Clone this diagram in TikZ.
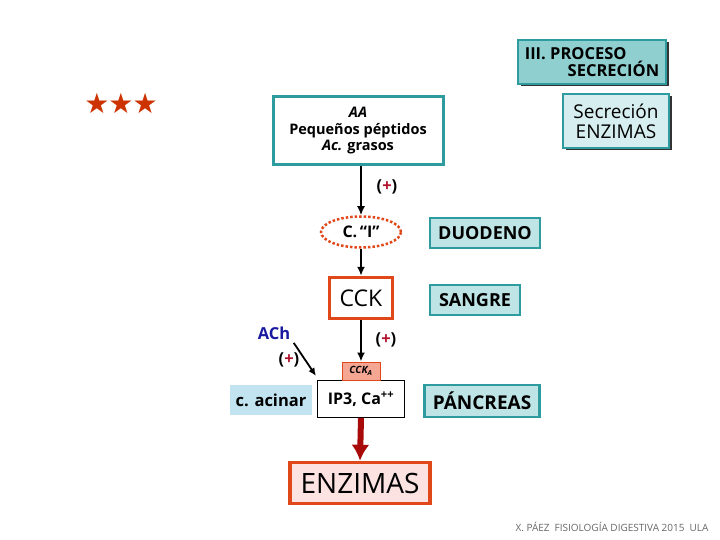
\documentclass[tikz,border=0pt]{standalone}
\usepackage{fontspec}
\setmainfont{Open Sans}
\newfontfamily\djv{DejaVu Sans}
\usetikzlibrary{arrows.meta,shapes.geometric,shadows}
\definecolor{teal1}{HTML}{2E9C9E}
\definecolor{tealfill}{HTML}{8FCFD0}
\definecolor{cyanfill}{HTML}{D6EEF0}
\definecolor{boxfill}{HTML}{BFE4E6}
\definecolor{redor}{HTML}{E0481A}
\definecolor{starred}{HTML}{CC3300}
\definecolor{achblue}{HTML}{1A1AA0}
\definecolor{plusred}{HTML}{B0102A}
\definecolor{salmon}{HTML}{F5A793}
\definecolor{pinkfill}{HTML}{FDE2E2}
\definecolor{acinar}{HTML}{C2E4F0}
\definecolor{darkred}{HTML}{A80A0A}
\newcommand{\fs}[1]{\fontsize{#1}{#1}\selectfont}
\newcommand{\pl}{(\textcolor{plusred}{+})}
\tikzset{
  tealbox/.style={draw=teal1, line width=2.5pt, fill=boxfill, inner sep=2pt, font=\fs{18}\bfseries},
  shadowbox/.style={drop shadow={shadow xshift=2.5pt, shadow yshift=-2.5pt, fill=black!80, opacity=1}},
  flow/.style={line width=2.5pt, -{Latex[length=9pt,width=8pt]}},
  plus/.style={font=\fs{16.5}\bfseries},
}
\begin{document}
\begin{tikzpicture}[x=1pt,y=-1pt]
\useasboundingbox (0,0) rectangle (720,540);
% title
\node[draw=teal1, line width=2pt, fill=tealfill, shadowbox, minimum width=148pt, minimum height=44pt, align=left, font=\fs{16.5}\bfseries, inner sep=2pt] (title) at (592,62) {III. PROCESO\\[1pt]\hspace*{2.6em}SECRECIÓN};
\node[text=starred, font=\djv\fs{28}, inner sep=0pt] (stars) at (121,103) {★\kern-1pt★\kern-1pt★};
% AA box
\node[draw=teal1, line width=3pt, fill=white, minimum width=170pt, minimum height=68pt, align=center, font=\fs{14.5}\bfseries, inner sep=2pt] (aa) at (358,131) {\textit{AA}\\[2pt]Pequeños péptidos\\[2pt]\textit{Ac.} grasos};
% Secrecion box
\node[draw=teal1, line width=2pt, fill=cyanfill, shadowbox, minimum width=106pt, minimum height=54pt, align=center, font=\fs{19}, inner sep=2pt] (sec) at (616,121) {Secreción\\[1pt]ENZIMAS};
% ellipse
\node[ellipse, draw=redor, line width=2.5pt, dotted, fill=white, minimum width=80pt, minimum height=31pt, inner sep=0pt, font=\fs{16}\bfseries] (ci) at (361,232) {C.\,“I”};
\node[tealbox, minimum width=110pt, minimum height=30pt] (duo) at (485,233) {DUODENO};
% CCK
\node[draw=redor, line width=3.5pt, fill=white, minimum width=63pt, minimum height=41pt, font=\fs{23}] (cck) at (361,298) {CCK};
\node[tealbox, minimum width=90pt, minimum height=30pt] (san) at (475,300) {SANGRE};
% lower
\node[text=achblue, font=\fs{16.5}\bfseries] (ach) at (274,333) {ACh};
\node[draw=black, line width=0.8pt, fill=white, minimum width=87pt, minimum height=37pt, font=\fs{16}\bfseries] (ip) at (361,399) {IP3, Ca\textsuperscript{++}};
\node[draw=redor, line width=0.6pt, fill=salmon, minimum width=38pt, minimum height=18pt, inner sep=1pt, font=\fs{10}\bfseries\itshape, anchor=south] (ccka) at (ip.north) {CCK\textsubscript{A}};
\node[fill=acinar, minimum width=82pt, minimum height=30pt, font=\fs{16.5}\bfseries] (acin) at (271,400) {c. acinar};
\node[tealbox, minimum width=115pt, minimum height=32pt, font=\fs{19}\bfseries] (pan) at (482,401) {PÁNCREAS};
\node[draw=redor, line width=3.5pt, fill=pinkfill, minimum width=140pt, minimum height=41pt, font=\fs{28}] (enz) at (360,483) {ENZIMAS};
% plus labels
\node[plus] (p1) at (387,187) {\pl};
\node[plus] (p2) at (386,340) {\pl};
\node[plus] (p3) at (289,360) {\pl};
% connectors
\draw[flow] (aa.south -| ci.north) -- (ci.north);
\draw[flow] (ci.south) -- (cck.north);
\draw[flow] (cck.south) -- (ccka.north);
\coordinate (achend) at (316,376);
\draw[line width=1.8pt, -{Latex[length=8pt,width=7pt]}] (ach.south east) -- (achend);
\draw[line width=6pt, draw=darkred, -{Latex[length=16pt,width=18pt]}] (ip.south) -- (enz.north);
% footer
\node[text=black!60, font=\fs{10}, anchor=west] (foot) at (512,527) {X. PÁEZ\enspace FISIOLOGÍA DIGESTIVA 2015\enspace ULA};
\end{tikzpicture}
\end{document}
